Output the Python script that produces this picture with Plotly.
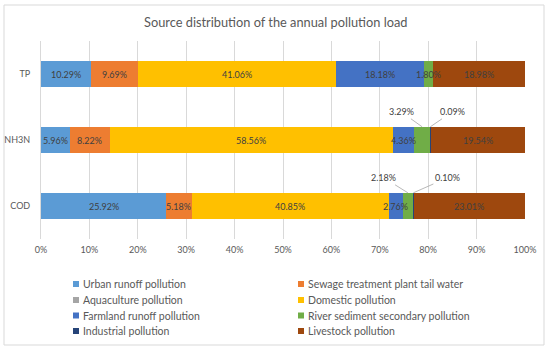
import plotly.graph_objects as go

categories = ["COD", "NH3N", "TP"]
series_names = [
    "Urban runoff pollution",
    "Sewage treatment plant tail water",
    "Aquaculture pollution",
    "Domestic pollution",
    "Farmland runoff pollution",
    "River sediment secondary pollution",
    "Industrial pollution",
    "Livestock pollution",
]
colors = ["#5B9BD5", "#ED7D31", "#A5A5A5", "#FFC000", "#4472C4", "#70AD47", "#264478", "#9E480E"]
# values per series, in order [COD, NH3N, TP]
urban = [25.92, 5.96, 10.29]
sewage = [5.18, 8.22, 9.69]
aquaculture = [0.0, 0.0, 0.0]
domestic = [40.85, 58.56, 41.06]
farmland = [2.76, 4.36, 18.18]
river = [2.18, 3.29, 1.80]
industrial = [0.10, 0.09, 0.0]
livestock = [23.01, 19.54, 18.98]
series_values = [urban, sewage, aquaculture, domestic, farmland, river, industrial, livestock]
x_ticks = [0, 10, 20, 30, 40, 50, 60, 70, 80, 90, 100]

# segments labelled with callouts instead of centred text: (series index, category index, ax, ay)
callouts = [(5, 1, -21, -15), (6, 1, 22, -15), (5, 0, -24, -15), (6, 0, 34, -15)]
callout_set = {(s, c) for s, c, _, _ in callouts}

W, H = 550, 350
L, R, T, B = 41, 25, 41, 111
PW, PH = W - L - R, H - T - B
FONT = "Lato"
GRAY = "#595959"
LABEL = "#404040"


def px_x(px):
    return (px - L) / PW


def px_y(py):
    return (T + PH - py) / PH


fig = go.Figure()
for name, col, vals in zip(series_names, colors, series_values):
    fig.add_trace(go.Bar(
        y=categories, x=vals, name=name, orientation="h",
        marker=dict(color=col, line=dict(width=0)),
        textposition="none", showlegend=False,
    ))

annotations = []
# data labels, centred on each stacked segment
for si, vals in enumerate(series_values):
    for ci, v in enumerate(vals):
        if v == 0:
            continue
        start = sum(series_values[k][ci] for k in range(si))
        xc = start + v / 2
        if (si, ci) in callout_set:
            continue
        annotations.append(dict(
            x=xc, y=ci, xref="x", yref="y", text=f"{v:.2f}%", showarrow=False,
            xanchor="center", yanchor="middle",
            font=dict(family=FONT, size=9, color=LABEL),
        ))

for si, ci, ax, ay in callouts:
    start = sum(series_values[k][ci] for k in range(si))
    xc = start + series_values[si][ci] / 2
    annotations.append(dict(
        x=xc, y=ci + 0.2, xref="x", yref="y", text=f"{series_values[si][ci]:.2f}%",
        showarrow=True, arrowhead=0, arrowwidth=0.8, arrowcolor="#A6A6A6",
        ax=ax, ay=ay, standoff=0, startstandoff=0,
        font=dict(family=FONT, size=9, color=LABEL),
    ))

# title
annotations.append(dict(
    x=px_x(275), y=px_y(22), xref="paper", yref="paper", showarrow=False,
    text="Source distribution of the annual pollution load",
    font=dict(family=FONT, size=12.8, color=GRAY), xanchor="center", yanchor="middle",
))

shapes = [dict(
    type="rect", xref="paper", yref="paper",
    x0=px_x(4), x1=px_x(544), y0=px_y(345), y1=px_y(5),
    line=dict(color="#D9D9D9", width=1), fillcolor="rgba(0,0,0,0)", layer="below",
)]

# legend (two columns, row-major order)
col_x = [73, 298]
row_y = [284, 300, 315.5, 331]
for i, (name, col) in enumerate(zip(series_names, colors)):
    cx = col_x[i % 2]
    cy = row_y[i // 2]
    shapes.append(dict(
        type="rect", xref="paper", yref="paper",
        x0=px_x(cx), x1=px_x(cx + 6), y0=px_y(cy + 3), y1=px_y(cy - 3),
        fillcolor=col, line=dict(width=0),
    ))
    annotations.append(dict(
        x=px_x(cx + 8), y=px_y(cy), xref="paper", yref="paper", showarrow=False,
        text=name, xanchor="left", yanchor="middle",
        font=dict(family=FONT, size=10.5, color=GRAY),
    ))

fig.update_layout(
    width=W, height=H, barmode="stack", bargap=0.6,
    margin=dict(l=L, r=R, t=T, b=B, pad=0, autoexpand=False),
    paper_bgcolor="white", plot_bgcolor="white",
    font=dict(family=FONT, color=GRAY),
    xaxis=dict(
        range=[0, 100], tickvals=x_ticks, ticktext=[f"{v}%" for v in x_ticks],
        showgrid=True, gridcolor="#D9D9D9", gridwidth=1, zeroline=False,
        showline=False, ticks="", tickfont=dict(family=FONT, size=9, color=GRAY),
        ticklabelstandoff=4, fixedrange=True, automargin=False,
    ),
    yaxis=dict(
        categoryorder="array", categoryarray=categories, showgrid=False,
        showline=True, linecolor="#D9D9D9", linewidth=1, ticks="",
        tickfont=dict(family=FONT, size=9, color=GRAY), ticklabelstandoff=8,
        fixedrange=True, automargin=False,
    ),
    shapes=shapes, annotations=annotations, showlegend=False,
)

fig.write_html(
    "out.html",
    config={"displayModeBar": False, "staticPlot": True},
    post_script="document.body.style.margin='0';document.body.style.overflow='hidden';",
)
